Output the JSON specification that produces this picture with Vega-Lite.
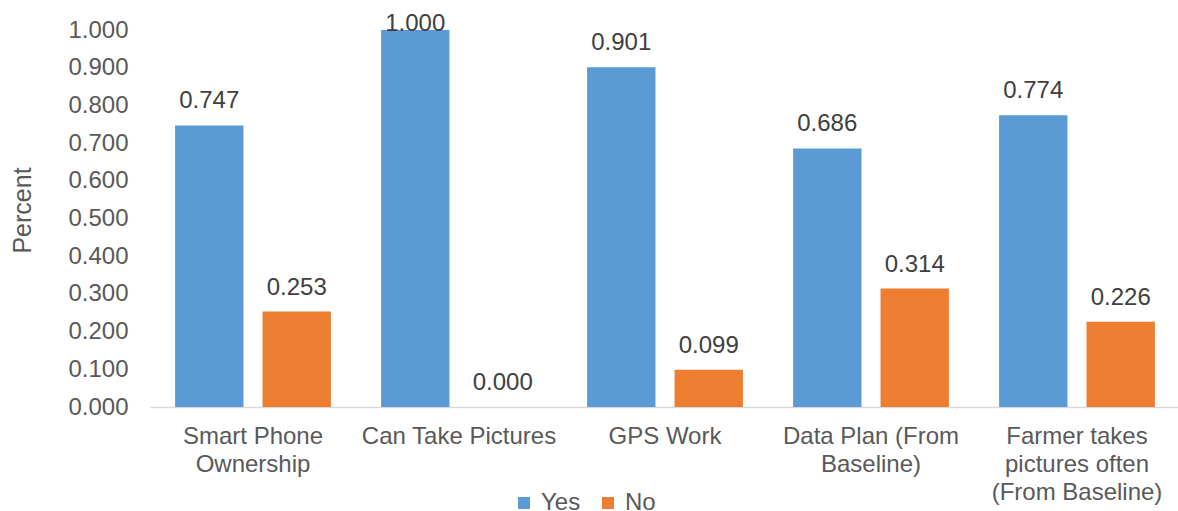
{
  "$schema": "https://vega.github.io/schema/vega-lite/v6.json",
  "autosize": {"type": "none"},
  "padding": {"left": 150, "top": 30, "right": 0, "bottom": 104},
  "width": 1030,
  "height": 377,
  "config": {
    "font": "Liberation Sans",
    "view": {"stroke": null}
  },
  "data": {
    "values": [
      {"category": "Smart Phone Ownership", "group": "Yes", "value": 0.747},
      {"category": "Smart Phone Ownership", "group": "No", "value": 0.253},
      {"category": "Can Take Pictures", "group": "Yes", "value": 1.0},
      {"category": "Can Take Pictures", "group": "No", "value": 0.0},
      {"category": "GPS Work", "group": "Yes", "value": 0.901},
      {"category": "GPS Work", "group": "No", "value": 0.099},
      {"category": "Data Plan (From Baseline)", "group": "Yes", "value": 0.686},
      {"category": "Data Plan (From Baseline)", "group": "No", "value": 0.314},
      {"category": "Farmer takes pictures often (From Baseline)", "group": "Yes", "value": 0.774},
      {"category": "Farmer takes pictures often (From Baseline)", "group": "No", "value": 0.226}
    ]
  },
  "encoding": {
    "x": {
      "field": "category",
      "type": "nominal",
      "sort": null,
      "scale": {"paddingInner": 0, "paddingOuter": 0},
      "axis": {
        "title": null,
        "labelAngle": 0,
        "ticks": false,
        "domainColor": "#d9d9d9",
        "domainWidth": 1.5,
        "labelFontSize": 24,
        "labelColor": "#595959",
        "labelPadding": 17,
        "labelLineHeight": 28,
        "labelBaseline": "top",
        "labelOverlap": false,
        "labelLimit": 0,
        "labelExpr": "datum.label == 'Smart Phone Ownership' ? ['Smart Phone', 'Ownership'] : datum.label == 'Data Plan (From Baseline)' ? ['Data Plan (From', 'Baseline)'] : datum.label == 'Farmer takes pictures often (From Baseline)' ? ['Farmer takes', 'pictures often', '(From Baseline)'] : datum.label"
      }
    },
    "xOffset": {
      "field": "group",
      "type": "nominal",
      "sort": ["Yes", "No"],
      "scale": {"paddingInner": 0.218, "paddingOuter": 0.287}
    },
    "y": {
      "field": "value",
      "type": "quantitative",
      "scale": {"domain": [0, 1], "nice": false},
      "axis": {
        "title": "Percent",
        "format": ".3f",
        "values": [0, 0.1, 0.2, 0.3, 0.4, 0.5, 0.6, 0.7, 0.8, 0.9, 1.0],
        "labelOverlap": false,
        "grid": false,
        "ticks": false,
        "domain": false,
        "labelFontSize": 24,
        "labelColor": "#595959",
        "labelPadding": 22,
        "titleFontSize": 25,
        "titleFontWeight": "normal",
        "titleColor": "#595959",
        "titleAngle": -90,
        "titleX": -128,
        "titleY": 180,
        "titleAlign": "center",
        "titleBaseline": "middle"
      }
    }
  },
  "layer": [
    {
      "mark": {"type": "bar"},
      "encoding": {
        "color": {
          "field": "group",
          "type": "nominal",
          "sort": ["Yes", "No"],
          "scale": {"domain": ["Yes", "No"], "range": ["#5B9BD5", "#ED7D31"]},
          "legend": {
            "title": null,
            "orient": "none",
            "direction": "horizontal",
            "legendX": 362,
            "legendY": 461,
            "symbolType": "square",
            "symbolSize": 144,
            "symbolStrokeWidth": 0,
            "labelFontSize": 24,
            "labelColor": "#595959",
            "columnPadding": 15,
            "labelOffset": 5
          }
        }
      }
    },
    {
      "transform": [{"filter": "datum.value < 0.99"}],
      "mark": {"type": "text", "dy": -17, "fontSize": 24, "color": "#404040", "baseline": "alphabetic"},
      "encoding": {
        "text": {"field": "value", "type": "quantitative", "format": ".3f"}
      }
    },
    {
      "transform": [{"filter": "datum.value >= 0.99"}],
      "mark": {"type": "text", "dy": 1, "fontSize": 24, "color": "#404040", "baseline": "alphabetic"},
      "encoding": {
        "text": {"field": "value", "type": "quantitative", "format": ".3f"}
      }
    }
  ]
}
